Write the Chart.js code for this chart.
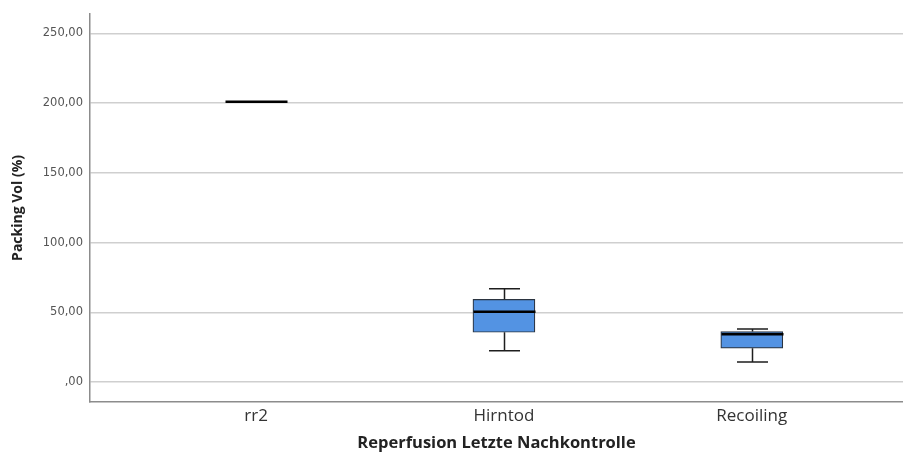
<!DOCTYPE html>
<html>
<head>
<meta charset="utf-8">
<script src="https://cdn.jsdelivr.net/npm/chart.js@4/dist/chart.umd.min.js"></script>
<style>
	html, body { margin: 0; padding: 0; background: #fff; }
	#wrap { width: 903px; height: 454px; position: relative; }
</style>
</head>
<body>
<div id="wrap"><canvas id="chart"></canvas></div>
<script>
// Boxplot summary per group
const categories = ["rr2", "Hirntod", "Recoiling"];
const mins = [201, 22.4, 14.3];
const q1s = [201, 35.7, 24.3];
const medians = [201, 50.5, 34.3];
const q3s = [201, 59.3, 36.2];
const maxes = [201, 66.9, 38.1];
const yTicks = [0, 50, 100, 150, 200, 250];

const BOX_WIDTH = 62;

const fmtTick = (v) => (v === 0 ? ",00" : v.toFixed(2).replace(".", ","));

// whiskers, caps and median lines on top of the floating-bar boxes
const boxplotLines = {
	id: "boxplotLines",
	afterDatasetsDraw(chart) {
		const { ctx, scales } = chart;
		const xs = scales.x;
		const ys = scales.y;
		ctx.save();
		categories.forEach((_, i) => {
			const cx = Math.round(xs.getPixelForValue(i)) + 0.5;
			const half = BOX_WIDTH / 2;
			const cap = BOX_WIDTH / 4;
			const pMin = ys.getPixelForValue(mins[i]);
			const pMax = ys.getPixelForValue(maxes[i]);
			const pQ1 = ys.getPixelForValue(q1s[i]);
			const pQ3 = ys.getPixelForValue(q3s[i]);
			const pMed = ys.getPixelForValue(medians[i]);

			ctx.strokeStyle = "#1e1e1e";
			ctx.lineWidth = 1.5;
			if (maxes[i] > q3s[i]) {
				ctx.beginPath();
				ctx.moveTo(cx, pQ3);
				ctx.lineTo(cx, pMax);
				ctx.moveTo(cx - cap, pMax);
				ctx.lineTo(cx + cap, pMax);
				ctx.stroke();
			}
			if (mins[i] < q1s[i]) {
				ctx.beginPath();
				ctx.moveTo(cx, pQ1);
				ctx.lineTo(cx, pMin);
				ctx.moveTo(cx - cap, pMin);
				ctx.lineTo(cx + cap, pMin);
				ctx.stroke();
			}

			ctx.strokeStyle = "#000";
			ctx.lineWidth = 2.5;
			ctx.beginPath();
			ctx.moveTo(cx - half, pMed);
			ctx.lineTo(cx + half, pMed);
			ctx.stroke();
		});
		ctx.restore();
	},
};

const boxes = categories.map((_, i) => ({ x: i, y: [q1s[i], q3s[i]] }));

new Chart(document.getElementById("chart").getContext("2d"), {
	type: "bar",
	data: {
		datasets: [
			{
				data: boxes,
				backgroundColor: "#5393e3",
				borderColor: "#2b3440",
				borderWidth: 1.2,
				borderSkipped: false,
				barThickness: BOX_WIDTH,
			},
		],
	},
	options: {
		responsive: true,
		maintainAspectRatio: false,
		animation: false,
		layout: { padding: { top: 12, right: 0, left: 0, bottom: 0 } },
		plugins: {
			legend: { display: false },
			tooltip: { enabled: false },
		},
		scales: {
			x: {
				type: "linear",
				offset: false,
				min: -0.67,
				max: 2.61,
				afterBuildTicks: (scale) => {
					scale.ticks = categories.map((_, i) => ({ value: i }));
				},
				afterFit: (scale) => {
					scale.height = 52;
				},
				ticks: {
					callback: (v) => categories[v],
					color: "#333",
					padding: 4,
					maxRotation: 0,
					font: { family: "'Open Sans'", size: 17 },
				},
				grid: { display: false, drawTicks: false },
				border: { display: true, color: "#8c8c8c", width: 1.5 },
				title: {
					display: true,
					text: "Reperfusion Letzte Nachkontrolle",
					color: "#222",
					font: { family: "'Open Sans'", size: 16.5, weight: "bold" },
					padding: { top: 0, bottom: 1 },
				},
			},
			y: {
				min: -14.3,
				max: 264,
				afterBuildTicks: (scale) => {
					scale.ticks = yTicks.map((v) => ({ value: v }));
				},
				afterFit: (scale) => {
					scale.width = 90;
				},
				ticks: {
					callback: fmtTick,
					color: "#555",
					padding: 7,
					font: { family: "'DejaVu Sans'", size: 11.5 },
				},
				grid: { color: "#cfcfcf", lineWidth: 1.5, drawTicks: false },
				border: { display: true, color: "#8c8c8c", width: 1.5 },
				title: {
					display: true,
					text: "Packing Vol (%)",
					color: "#222",
					font: { family: "'Open Sans'", size: 14, weight: "bold" },
					padding: { top: 10, bottom: 0 },
				},
			},
		},
	},
	plugins: [boxplotLines],
});
</script>
</body>
</html>
